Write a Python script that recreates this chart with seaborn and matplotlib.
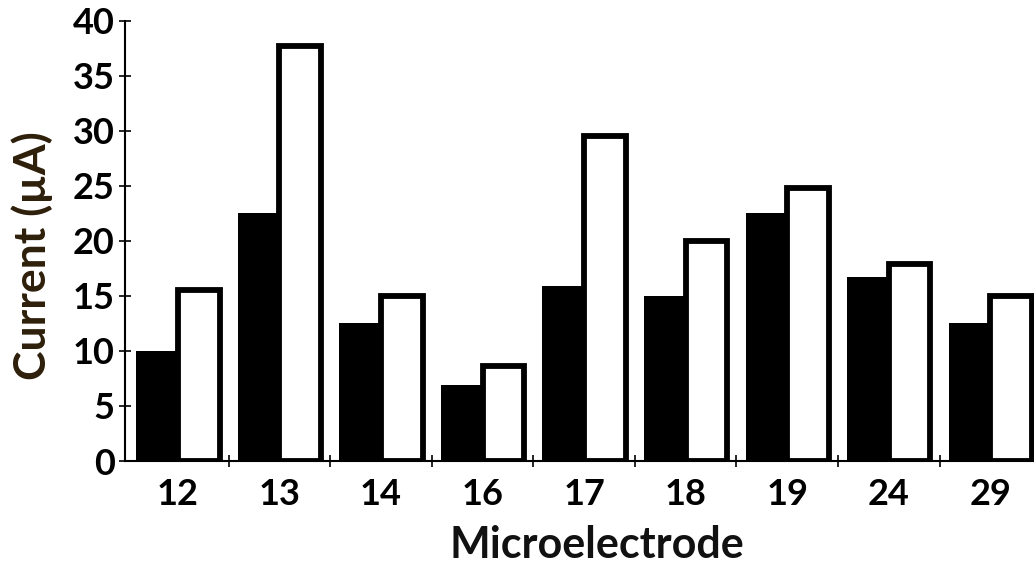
import matplotlib
matplotlib.use("Agg")
import matplotlib.pyplot as plt
import seaborn as sns
import pandas as pd
from matplotlib.ticker import FixedLocator

# Microelectrode channels and measured currents (µA) for the two conditions
electrodes = ["12", "13", "14", "16", "17", "18", "19", "24", "29"]
current_first = [10.0, 22.5, 12.5, 6.9, 15.9, 15.0, 22.5, 16.7, 12.5]
current_second = [15.5, 37.7, 15.0, 8.6, 29.5, 20.0, 24.8, 17.9, 15.0]
yticks = [0, 5, 10, 15, 20, 25, 30, 35, 40]

df = pd.DataFrame({
    "Microelectrode": electrodes * 2,
    "Current": current_first + current_second,
    "Condition": ["first"] * len(electrodes) + ["second"] * len(electrodes),
})

sns.set_theme(style="white")
plt.rcParams["font.family"] = ["Lato", "DejaVu Sans"]
plt.rcParams["font.weight"] = "bold"

fig = plt.figure(figsize=(10.34, 5.66), dpi=100)
ax = fig.add_axes([0.121, 0.1855, 0.879, 0.7775])

sns.barplot(
    data=df, x="Microelectrode", y="Current", hue="Condition",
    order=electrodes, hue_order=["first", "second"],
    palette=["black", "white"], width=0.82, gap=0, legend=False,
    saturation=1, ax=ax,
)

# black bars without outline, white bars with a thick black outline
for patch in ax.patches:
    fc = patch.get_facecolor()
    patch.set_edgecolor("black")
    patch.set_linewidth(4.2 if fc[0] > 0.5 else 0)
    patch.set_zorder(3)

ax.set_ylim(0, 40)
ax.set_xlim(-0.52, 8.43)
ax.set_yticks(yticks)

for side in ["top", "right"]:
    ax.spines[side].set_visible(False)
for side in ["left", "bottom"]:
    ax.spines[side].set_color("black")
    ax.spines[side].set_linewidth(1.5)

ax.tick_params(axis="y", which="major", direction="inout", length=9, width=1.2,
               color="black", labelsize=26, labelcolor="black", pad=3, left=True)
ax.tick_params(axis="x", which="major", length=0, labelsize=26,
               labelcolor="black", pad=12)
ax.xaxis.set_minor_locator(FixedLocator([i + 0.5 for i in range(len(electrodes) - 1)]))
ax.tick_params(axis="x", which="minor", direction="inout", length=8, width=1.2,
               color="black", bottom=True)
for lbl in ax.get_xticklabels() + ax.get_yticklabels():
    lbl.set_fontweight("bold")

ax.set_xlabel("Microelectrode", fontsize=31, fontweight="bold", color="#111111")
ax.set_ylabel("Current (µA)", fontsize=32, fontweight="bold", color="#2e1f0a")
ax.xaxis.set_label_coords(0.519, -0.145)
ax.yaxis.set_label_coords(-0.079, 0.466)
ax.grid(False)

fig.savefig("out.png", dpi=100, facecolor="white")
